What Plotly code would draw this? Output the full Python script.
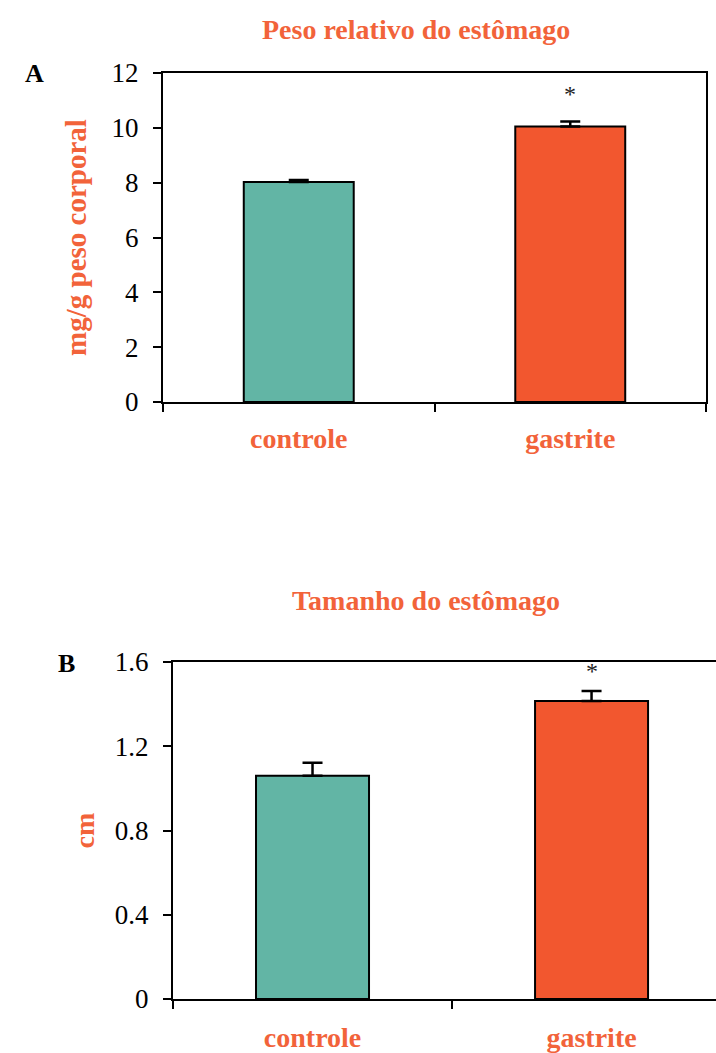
import plotly.graph_objects as go

categories = ["controle", "gastrite"]

# Panel A: Peso relativo do estômago (mg/g peso corporal)
peso_mean = [8.02, 10.05]
peso_err = [0.08, 0.18]

# Panel B: Tamanho do estômago (cm)
tam_mean = [1.06, 1.415]
tam_err = [0.062, 0.047]

yticks_a = [0, 2, 4, 6, 8, 10, 12]
yticks_b = [0, 0.4, 0.8, 1.2, 1.6]
yticklabels_b = ["0", "0.4", "0.8", "1.2", "1.6"]

bar_colors = ["#62b5a5", "#f2572f"]
text_orange = "#f2633a"
FONT = "Liberation Serif"

W, H = 716, 1053

fig = go.Figure()

for xa, ya, means, errs in [("x", "y", peso_mean, peso_err), ("x2", "y2", tam_mean, tam_err)]:
    fig.add_trace(go.Bar(
        x=categories, y=means, xaxis=xa, yaxis=ya, width=0.405,
        marker=dict(color=bar_colors, line=dict(color="black", width=2)),
        error_y=dict(type="data", symmetric=False, array=errs, arrayminus=[0, 0],
                     color="black", thickness=2.5, width=10),
        showlegend=False, hoverinfo="skip",
    ))

axis_common = dict(showline=True, linecolor="black", linewidth=2, showgrid=False,
                   zeroline=False, ticks="outside", ticklen=8, tickwidth=2, tickcolor="black",
                   automargin=False)

fig.update_layout(
    template="none",
    width=W, height=H,
    autosize=False,
    margin=dict(l=0, r=0, t=0, b=0, pad=0),
    paper_bgcolor="white", plot_bgcolor="white",
    font=dict(family=FONT, color="black"),
    xaxis=dict(domain=[163 / W, 706 / W], type="category", range=[-0.5, 1.5],
               tickson="boundaries", mirror=True, anchor="y",
               tickfont=dict(family=FONT, size=28, color=text_orange, weight="bold"),
               ticklabelstandoff=10, **axis_common),
    yaxis=dict(domain=[1 - 402 / H, 1 - 73 / H], range=[0, 12], tickvals=yticks_a,
               mirror=True, anchor="x",
               tickfont=dict(family=FONT, size=27, color="black"),
               ticklabelstandoff=9,
               title=dict(text="mg/g peso corporal", standoff=16,
                          font=dict(family=FONT, size=29, color=text_orange, weight="bold")),
               **axis_common),
    xaxis2=dict(domain=[173 / W, 1.0], type="category", range=[-0.5, 1.446],
                tickson="boundaries", mirror=True, anchor="y2",
                tickfont=dict(family=FONT, size=28, color=text_orange, weight="bold"),
                ticklabelstandoff=12, **axis_common),
    yaxis2=dict(domain=[1 - 999 / H, 1 - 662 / H], range=[0, 1.6], tickvals=yticks_b,
                ticktext=yticklabels_b, mirror=False, anchor="x2",
                tickfont=dict(family=FONT, size=27, color="black"),
                ticklabelstandoff=9,
                title=dict(text="cm", standoff=12,
                           font=dict(family=FONT, size=28, color=text_orange, weight="bold")),
                **axis_common),
)

annotations = [
    dict(text="Peso relativo do estômago", x=416 / W, y=1 - 30 / H, xref="paper", yref="paper",
         yanchor="middle", showarrow=False,
         font=dict(family=FONT, size=28, color=text_orange, weight="bold")),
    dict(text="Tamanho do estômago", x=426 / W, y=1 - 600 / H, xref="paper", yref="paper",
         yanchor="middle", showarrow=False,
         font=dict(family=FONT, size=28, color=text_orange, weight="bold")),
    dict(text="A", x=23 / W, y=1 - 73 / H, xref="paper", yref="paper", showarrow=False,
         yanchor="middle", font=dict(family=FONT, size=26, color="black", weight="bold")),
    dict(text="B", x=56 / W, y=1 - 663 / H, xref="paper", yref="paper", showarrow=False,
         yanchor="middle", font=dict(family=FONT, size=26, color="black", weight="bold")),
    dict(text="*", x=categories[1], y=peso_mean[1] + peso_err[1], xref="x", yref="y",
         showarrow=False, yshift=28, font=dict(family=FONT, size=24, color="#222222")),
    dict(text="*", x=categories[1], y=tam_mean[1] + tam_err[1], xref="x2", yref="y2",
         showarrow=False, yshift=20, font=dict(family=FONT, size=24, color="#222222")),
]
fig.update_layout(annotations=annotations)

fig.write_html("out.html")
